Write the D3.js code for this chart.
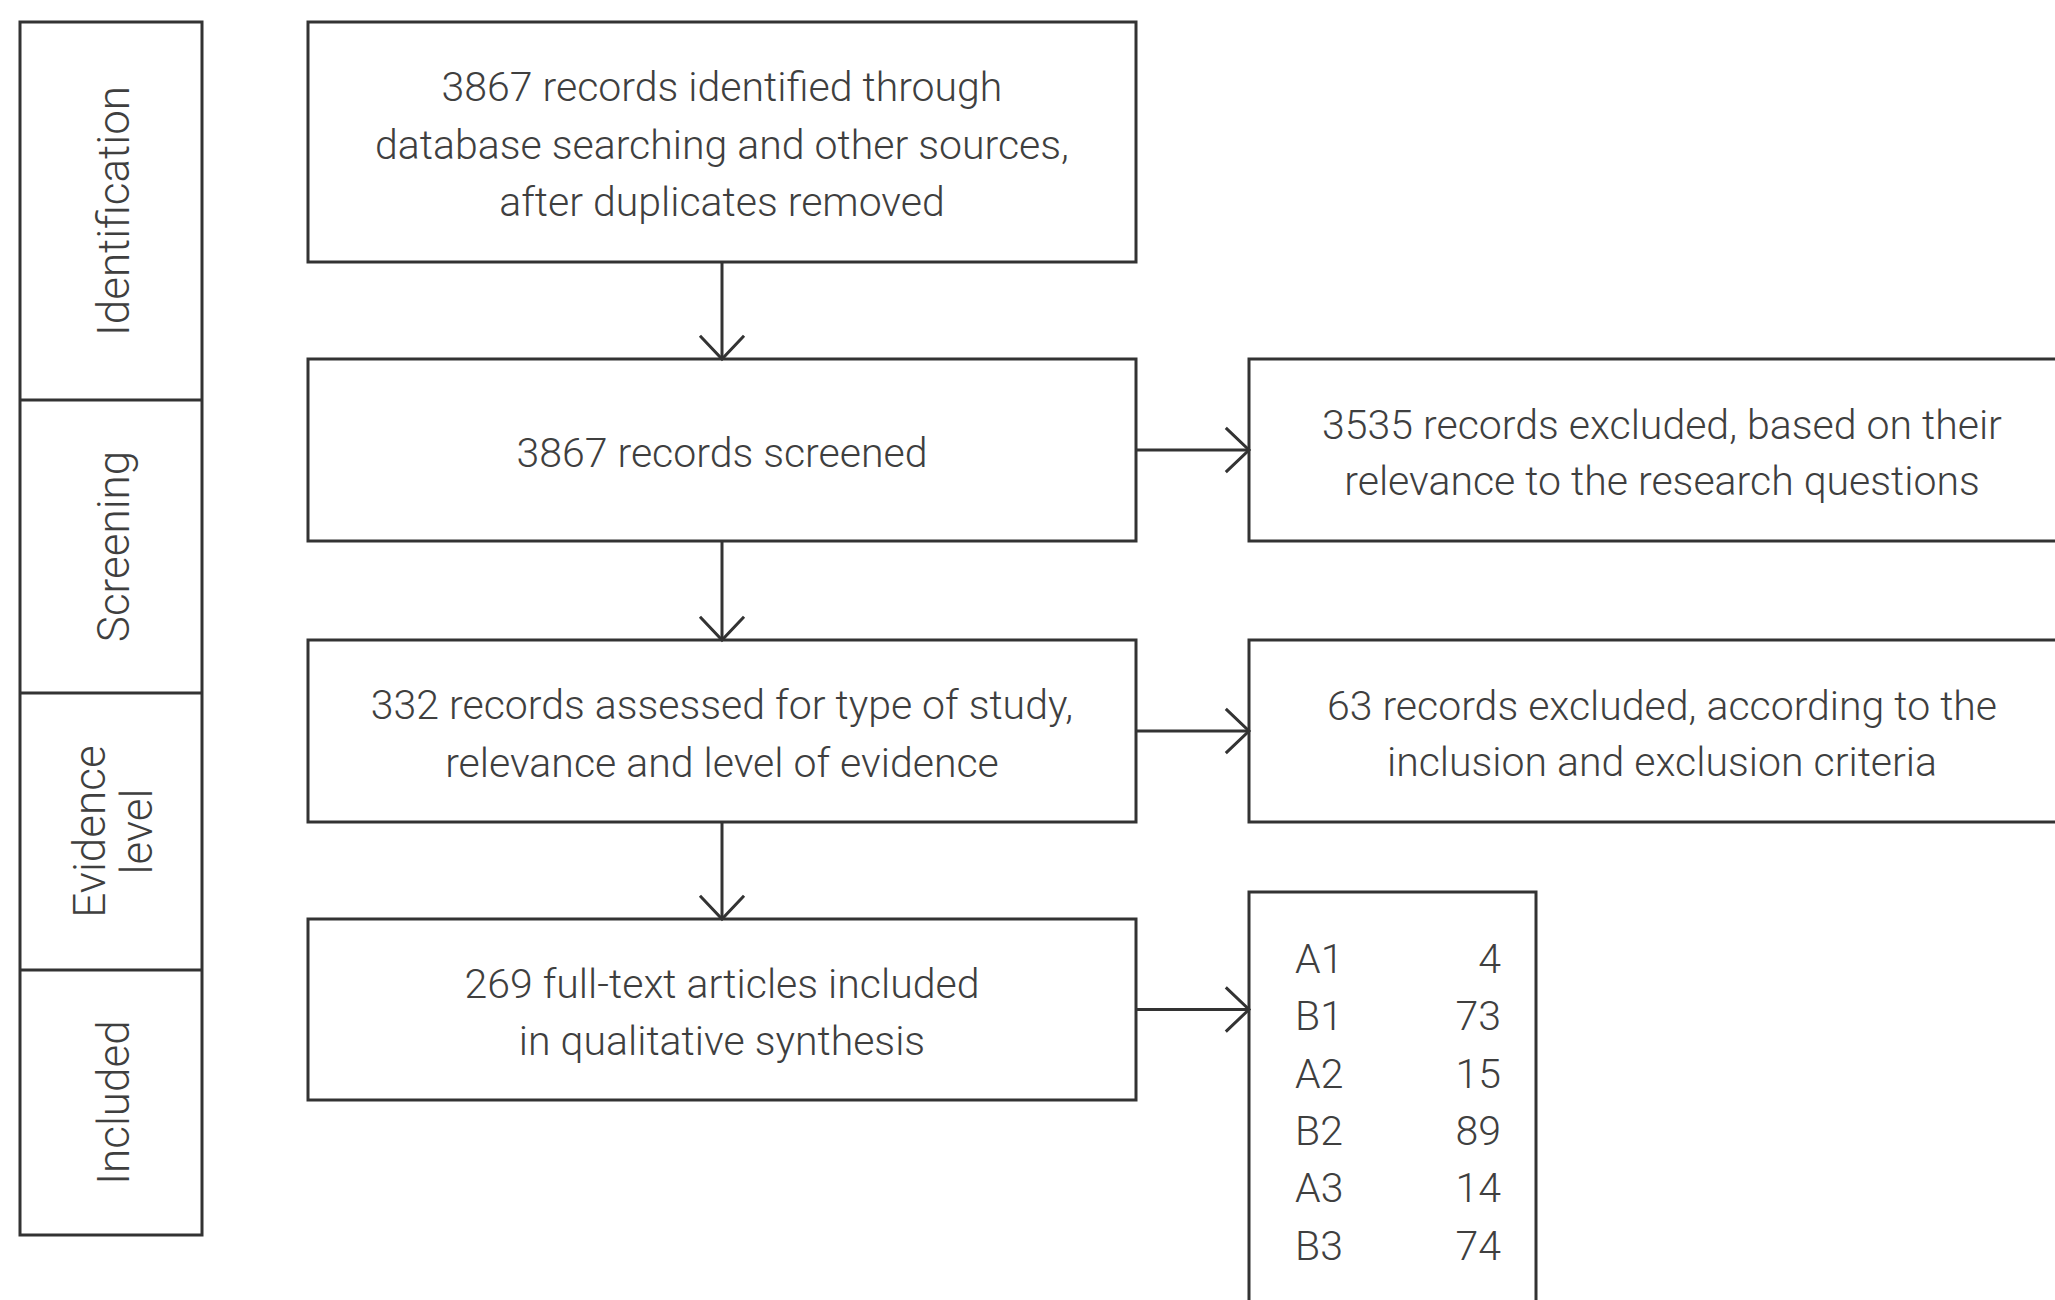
<!DOCTYPE html>
<html>
<head>
<meta charset="utf-8">
<script src="https://cdn.jsdelivr.net/npm/d3@7"></script>
<style>
  html, body { margin: 0; padding: 0; background: #fff; }
  svg { display: block; }
  text { font-family: Roboto, "Liberation Sans", Arial, sans-serif; font-weight: 300; fill: #3f3f3f; }
</style>
</head>
<body>
<svg id="chart" width="2055" height="1300"></svg>
<script>
// ---- data ----
const stages = [["Identification"], ["Screening"], ["Evidence", "level"], ["Included"]];
const mainTexts = [
  ["3867 records identified through", "database searching and other sources,", "after duplicates removed"],
  ["3867 records screened"],
  ["332 records assessed for type of study,", "relevance and level of evidence"],
  ["269 full-text articles included", "in qualitative synthesis"]
];
const exclusionTexts = [
  ["3535 records excluded, based on their", "relevance to the research questions"],
  ["63 records excluded, according to the", "inclusion and exclusion criteria"]
];
const levelLabels = ["A1", "B1", "A2", "B2", "A3", "B3"];
const levelCounts = [4, 73, 15, 89, 14, 74];

// ---- layout ----
const svg = d3.select("#chart");
const stroke = "#333", sw = 3;
const fs = 41, lh = 57.5;

// stage column boundaries
const stageEdges = [22, 400, 693, 970, 1235];
const stageX = d3.scaleLinear().domain([0, 1]).range([20, 202]);

// main boxes
const mainX = d3.scaleLinear().domain([0, 1]).range([308, 1136]);
const mainBoxes = [[22, 262], [359, 541], [640, 822], [919, 1100]];
// side boxes
const sideX = d3.scaleLinear().domain([0, 1]).range([1249, 2075]);
const sideBoxes = [mainBoxes[1], mainBoxes[2]];
const tableBox = { x0: 1249, x1: 1536, y0: 892, y1: 1330 };
const rowY = d3.scalePoint().domain(levelLabels).range([958, 1245]);

function box(x0, y0, x1, y1) {
  svg.append("rect").attr("x", x0).attr("y", y0).attr("width", x1 - x0).attr("height", y1 - y0)
    .attr("fill", "none").attr("stroke", stroke).attr("stroke-width", sw);
}
function lines(arr, cx, cy, size, spacing) {
  const t = svg.append("text").attr("text-anchor", "middle").attr("font-size", size);
  arr.forEach((s, i) => {
    t.append("tspan").attr("x", cx).attr("y", cy + (i - (arr.length - 1) / 2) * spacing).attr("dy", "0.36em").text(s);
  });
}
function arrow(x1, y1, x2, y2) {
  svg.append("line").attr("x1", x1).attr("y1", y1).attr("x2", x2).attr("y2", y2)
    .attr("stroke", stroke).attr("stroke-width", sw);
  const a = Math.atan2(y2 - y1, x2 - x1), L = 32, W = 0.76;
  const p = d3.path();
  p.moveTo(x2 - L * Math.cos(a - W), y2 - L * Math.sin(a - W));
  p.lineTo(x2, y2);
  p.lineTo(x2 - L * Math.cos(a + W), y2 - L * Math.sin(a + W));
  svg.append("path").attr("d", p.toString()).attr("fill", "none").attr("stroke", stroke)
    .attr("stroke-width", sw).attr("stroke-linejoin", "miter");
}

// stage column
box(stageX(0), stageEdges[0], stageX(1), stageEdges[4]);
stages.forEach((lbl, i) => {
  if (i > 0) svg.append("line").attr("x1", stageX(0)).attr("x2", stageX(1))
    .attr("y1", stageEdges[i]).attr("y2", stageEdges[i]).attr("stroke", stroke).attr("stroke-width", sw);
  const cx = (stageX(0) + stageX(1)) / 2 + 2, cy = (stageEdges[i] + stageEdges[i + 1]) / 2;
  const g = svg.append("g").attr("transform", `translate(${cx},${cy}) rotate(-90)`);
  const t = g.append("text").attr("text-anchor", "middle").attr("font-size", 44);
  lbl.forEach((s, j) => {
    t.append("tspan").attr("x", 0).attr("y", (j - (lbl.length - 1) / 2) * 47).attr("dy", "0.36em").text(s);
  });
});

// main boxes
const mcx = (mainX(0) + mainX(1)) / 2;
mainBoxes.forEach((b, i) => {
  box(mainX(0), b[0], mainX(1), b[1]);
  lines(mainTexts[i], mcx, (b[0] + b[1]) / 2 + 2, fs, lh);
  if (i < mainBoxes.length - 1) arrow(mcx, b[1], mcx, mainBoxes[i + 1][0]);
});

// side boxes
sideBoxes.forEach((b, i) => {
  box(sideX(0), b[0], sideX(1), b[1]);
  lines(exclusionTexts[i], (sideX(0) + sideX(1)) / 2, (b[0] + b[1]) / 2 + 2, fs, 56);
  arrow(mainX(1), (b[0] + b[1]) / 2, sideX(0), (b[0] + b[1]) / 2);
});

// table box
box(tableBox.x0, tableBox.y0, tableBox.x1, tableBox.y1);
arrow(mainX(1), (mainBoxes[3][0] + mainBoxes[3][1]) / 2, tableBox.x0, (mainBoxes[3][0] + mainBoxes[3][1]) / 2);
levelLabels.forEach((l, i) => {
  svg.append("text").attr("x", 1295).attr("y", rowY(l)).attr("dy", "0.36em").attr("font-size", fs).text(l);
  svg.append("text").attr("x", 1501).attr("y", rowY(l)).attr("dy", "0.36em").attr("font-size", fs)
    .attr("text-anchor", "end").text(levelCounts[i]);
});
</script>
</body>
</html>
